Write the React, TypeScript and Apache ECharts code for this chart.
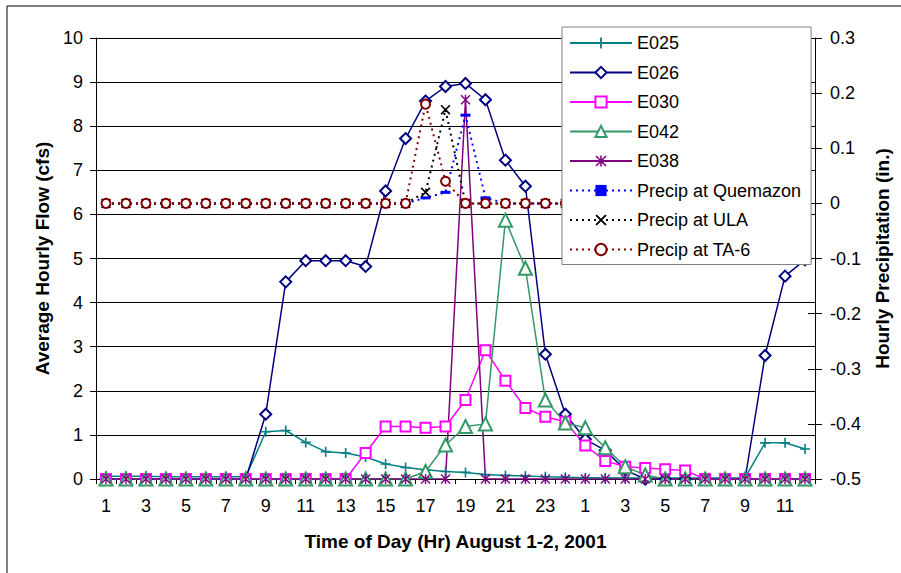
import React, { useEffect, useRef } from "react";
import * as echarts from "echarts";

const hours: string[] = [
  "1","2","3","4","5","6","7","8","9","10","11","12","13","14","15","16","17","18","19","20","21","22","23","24",
  "1","2","3","4","5","6","7","8","9","10","11","12",
];

const e025: number[] = [0.06,0.06,0.06,0.05,0.05,0.05,0.05,0.05,1.07,1.1,0.83,0.62,0.59,0.5,0.34,0.26,0.21,0.17,0.15,0.1,0.08,0.07,0.05,0.04,0.03,0.03,0.02,0.02,0.02,0.02,0.02,0.02,0.03,0.82,0.82,0.68];
const e026: number[] = [0,0,0,0,0,0,0,0,1.47,4.47,4.95,4.95,4.95,4.82,6.53,7.72,8.57,8.9,8.97,8.6,7.23,6.64,2.83,1.47,0.9,0.65,0.2,0,0,0,0,0,0,2.8,4.6,4.97];
const e030: number[] = [0,0,0,0,0,0,0,0,0,0,0,0,0,0.59,1.19,1.19,1.16,1.19,1.79,2.92,2.23,1.61,1.41,1.3,0.76,0.41,0.28,0.25,0.22,0.19,0,0,0,0,0,0];
const e042: number[] = [0,0,0,0,0,0,0,0,0,0,0,0,0,0,0,0,0.17,0.77,1.19,1.25,5.87,4.78,1.79,1.27,1.16,0.71,0.28,0.09,0,0,0,0,0,0,0,0];
const e038: number[] = [0,0,0,0,0,0,0,0,0,0,0,0,0,0,0,0,0,0,8.6,0,0,0,0,0,0,0,0,0,0,0,0,0,0,0,0,0];
const precipQuemazon: number[] = [0,0,0,0,0,0,0,0,0,0,0,0,0,0,0,0,0.01,0.02,0.16,0.01,0,0,0,0,0,0,0,0,0,0,0,0,0,0,0,0];
const precipULA: number[] = [0,0,0,0,0,0,0,0,0,0,0,0,0,0,0,0,0.02,0.17,0,0,0,0,0,0,0,0,0,0,0,0,0,0,0,0,0,0];
const precipTA6: number[] = [0,0,0,0,0,0,0,0,0,0,0,0,0,0,0,0,0.18,0.04,0,0,0,0,0,0,0,0,0,0,0,0,0,0,0,0,0,0];

const FONT = "'Liberation Sans', Arial, sans-serif";

const PLUS = "path://M4.2,0H5.8V4.2H10V5.8H5.8V10H4.2V5.8H0V4.2H4.2Z";
const ASTER = "path://M4.3,0H5.7V10H4.3Z M0,1L1,0L10,9L9,10Z M9,0L10,1L1,10L0,9Z";
const XMARK = "path://M0,1.2L1.2,0L10,8.8L8.8,10Z M8.8,0L10,1.2L1.2,10L0,8.8Z";
const DASH = "path://M0,0H10V3H0Z";

export default function App() {
  const ref = useRef<HTMLDivElement>(null);
  useEffect(() => {
    if (!ref.current) return;
    const chart = echarts.init(ref.current, null, { renderer: "svg" });
    const solid = (name: string, data: number[], color: string, symbol: string, size: number | number[], empty = false) => ({
      name,
      type: "line",
      data,
      yAxisIndex: 0,
      symbol,
      symbolSize: size,
      showAllSymbol: true,
      lineStyle: { color, width: 1.5 },
      itemStyle: empty ? { color, borderColor: color, borderWidth: 1.3 } : { color },
      emphasis: { disabled: true },
    });
    const dotted = (name: string, data: number[], color: string, symbol: string, size: number | number[], empty = false) => ({
      name,
      type: "line",
      data,
      yAxisIndex: 1,
      symbol,
      symbolSize: size,
      showAllSymbol: true,
      lineStyle: { color, width: 2, type: [2, 4] },
      itemStyle: empty ? { color, borderColor: color, borderWidth: 1.3 } : { color },
      emphasis: { disabled: true },
    });
    chart.setOption({
      animation: false,
      backgroundColor: "#fff",
      textStyle: { fontFamily: FONT, color: "#000" },
      graphic: [
        {
          type: "rect",
          shape: { x: 7, y: 6, width: 1200, height: 1200 },
          style: { fill: "none", stroke: "#000", lineWidth: 1 },
          silent: true,
          z: -1,
        },
      ],
      grid: { left: 96, top: 38, right: 86, bottom: 94, containLabel: false },
      legend: {
        orient: "vertical",
        left: 562,
        top: 27,
        padding: [7, 10, 6, 7],
        itemGap: 11.5,
        itemWidth: 62,
        itemHeight: 14,
        backgroundColor: "#fff",
        borderColor: "#808080",
        borderWidth: 1,
        textStyle: { fontSize: 18, fontFamily: FONT, color: "#000" },
        data: ["E025", "E026", "E030", "E042", "E038", "Precip at Quemazon", "Precip at ULA", "Precip at TA-6"],
      },
      xAxis: {
        type: "category",
        data: hours,
        boundaryGap: true,
        name: "Time of Day (Hr) August 1-2, 2001",
        nameLocation: "middle",
        nameGap: 53,
        nameTextStyle: { fontSize: 19, fontWeight: "bold", fontFamily: FONT, color: "#000" },
        axisLine: { lineStyle: { color: "#000", width: 1 } },
        axisTick: { show: true, interval: 0, length: 5, lineStyle: { color: "#000" } },
        axisLabel: { interval: 1, fontSize: 18, margin: 18, color: "#000", fontFamily: FONT },
        splitLine: { show: false },
      },
      yAxis: [
        {
          type: "value",
          min: 0,
          max: 10,
          interval: 1,
          position: "left",
          name: "Average Hourly Flow (cfs)",
          nameLocation: "middle",
          nameGap: 39,
          nameRotate: 90,
          nameTextStyle: { fontSize: 19, fontWeight: "bold", fontFamily: FONT, color: "#000" },
          axisLine: { show: true, lineStyle: { color: "#000", width: 1 } },
          axisTick: { show: true, length: 6, lineStyle: { color: "#000" } },
          axisLabel: { fontSize: 18, margin: 13, color: "#000", fontFamily: FONT },
          splitLine: { show: true, lineStyle: { color: "#000", width: 1 } },
        },
        {
          type: "value",
          min: -0.5,
          max: 0.3,
          interval: 0.1,
          position: "right",
          name: "Hourly Precipitation (in.)",
          nameLocation: "middle",
          nameGap: 58,
          nameRotate: 90,
          nameTextStyle: { fontSize: 19, fontWeight: "bold", fontFamily: FONT, color: "#000" },
          axisLine: { show: true, lineStyle: { color: "#000", width: 1 } },
          axisTick: { show: true, length: 7, lineStyle: { color: "#000" } },
          axisLabel: {
            fontSize: 18,
            margin: 15,
            color: "#000",
            fontFamily: FONT,
            formatter: (v: number) => {
              const r = Math.round(v * 10) / 10;
              return r === 0 ? "0" : String(r);
            },
          },
          splitLine: { show: false },
        },
        {
          type: "value",
          min: -0.5,
          max: 0.3,
          interval: 0.1,
          position: "right",
          axisLine: { show: false },
          axisTick: { show: true, inside: true, length: 7, lineStyle: { color: "#000" } },
          axisLabel: { show: false },
          splitLine: { show: false },
        },
      ],
      series: [
        solid("E025", e025, "#008080", PLUS, 10),
        solid("E026", e026, "#000080", "emptyDiamond", 11, true),
        solid("E030", e030, "#FF00FF", "emptyRect", 10, true),
        solid("E042", e042, "#339966", "emptyTriangle", 13, true),
        solid("E038", e038, "#800080", ASTER, 10),
        dotted("Precip at Quemazon", precipQuemazon, "#0000FF", DASH, [10, 3]),
        dotted("Precip at ULA", precipULA, "#000000", XMARK, 10),
        dotted("Precip at TA-6", precipTA6, "#800000", "emptyCircle", 9, true),
      ],
    });
    return () => chart.dispose();
  }, []);
  return (
    <div
      ref={ref}
      style={{ position: "absolute", left: 0, top: 0, width: 901, height: 573 }}
    />
  );
}
